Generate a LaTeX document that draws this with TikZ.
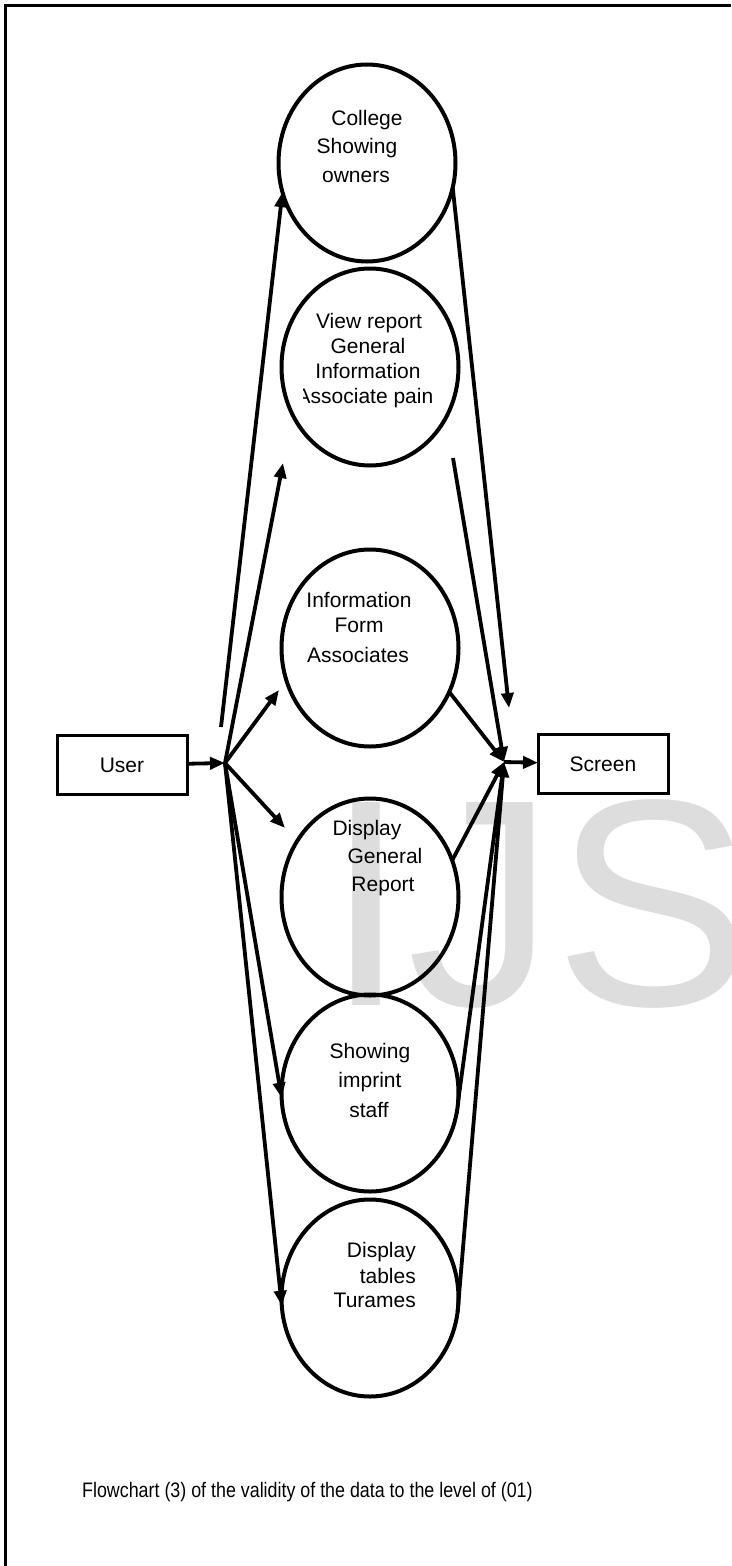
\documentclass[tikz,border=0pt]{standalone}
\usepackage{fontspec}
\setmainfont{Liberation Sans}
\newfontfamily\capfont[FakeStretch=0.85]{Liberation Sans}
\usetikzlibrary{shapes.geometric,arrows.meta}
\definecolor{wmgray}{RGB}{221,221,221}
\begin{document}
\begin{tikzpicture}[x=1pt,y=-1pt,
  bubble/.style={ellipse,draw,line width=4pt,minimum width=177pt,minimum height=197pt,inner sep=0pt,outer sep=0pt},
  boxn/.style={rectangle,draw,fill=white,line width=3pt,minimum width=130pt,minimum height=59pt,inner sep=0pt,outer sep=0pt,font=\fontsize{21}{25}\selectfont},
  lbl/.style={inner sep=0pt,anchor=base,font=\fontsize{21}{25}\selectfont},
  lblr/.style={lbl,anchor=base east},
  conn/.style={line width=3.8pt},
  arr/.style={conn,-{Triangle[length=15pt,width=12pt]}},
  framel/.style={line width=3pt}]
\useasboundingbox (0,0) rectangle (731,1566);
% watermark
\node[anchor=base west,inner sep=0pt,text=wmgray,font=\fontsize{295}{295}\selectfont] (wm) at (325,1005) {IJS};
% frame
\draw[framel] (5,1566) -- (5,5) -- (731,5);
% process bubbles
\node[bubble] (c1) at (367,163) {};
\node[bubble] (c2) at (370,367) {};
\node[bubble] (c3) at (370,648) {};
\node[bubble] (c4) at (370,897) {};
\node[bubble] (c5) at (370,1093) {};
\node[bubble] (c6) at (370,1298) {};
% terminators
\node[boxn] (user) at (122,765) {User};
\node[boxn] (screen) at (603,764) {Screen};
% bubble texts
\node[lbl] (t1a) at (367,125) {College};
\node[lbl] (t1b) at (357,153) {Showing};
\node[lbl] (t1c) at (356,182) {owners};
\node[lbl] (t2a) at (369,328) {View report};
\node[lbl] (t2b) at (368,353) {General};
\node[lbl] (t2c) at (368,378) {Information};
\begin{scope}
\clip (303,380) rectangle (460,415);
\node[lbl] (t2d) at (365,403) {Associate pain};
\end{scope}
\node[lbl] (t3a) at (359,607) {Information};
\node[lbl] (t3b) at (359,632) {Form};
\node[lbl] (t3c) at (358,662) {Associates};
\node[lbl] (t4a) at (367,835) {Display};
\node[lbl] (t4b) at (385,863) {General};
\node[lbl] (t4c) at (383,891) {Report};
\node[lbl] (t5a) at (370,1058) {Showing};
\node[lbl] (t5b) at (370,1087) {imprint};
\node[lbl] (t5c) at (369,1117) {staff};
\node[lblr] (t6a) at (416,1257) {Display};
\node[lblr] (t6b) at (416,1283) {tables};
\node[lblr] (t6c) at (416,1307) {Turames};
% caption
\node[inner sep=0pt,anchor=base west,font=\capfont\fontsize{21}{25}\selectfont] (cap) at (82,1497) {Flowchart (3) of the validity of the data to the level of (01)};
% junctions and free ends
\coordinate (jl) at (225,763);
\coordinate (jr) at (504,762);
\coordinate (p1) at (221,727);
\coordinate (p2) at (283,463);
\coordinate (p3) at (279,690);
\coordinate (p4) at (285,828);
\coordinate (q1) at (509,708);
\coordinate (q2) at (453,458);
% connectors
\draw[arr] (user) -- (jl);
\draw[arr] (p1) -- (c1.199);
\draw[arr] (jl) -- (p2);
\draw[arr] (jl) -- (p3);
\draw[arr] (jl) -- (p4);
\draw[arr] (jl) -- (c5.183);
\draw[arr] (jl) -- (c6.185);
\draw[arr] (c1.344) -- (q1);
\draw[arr] (q2) -- (jr);
\draw[arr] (c3.331) -- (jr);
\draw[arr] (c4.24) -- (jr);
\draw[arr] (c5.355) -- (jr);
\draw[arr] (c6.351) -- (jr);
\draw[arr] (jr) -- (screen);
\end{tikzpicture}
\end{document}
